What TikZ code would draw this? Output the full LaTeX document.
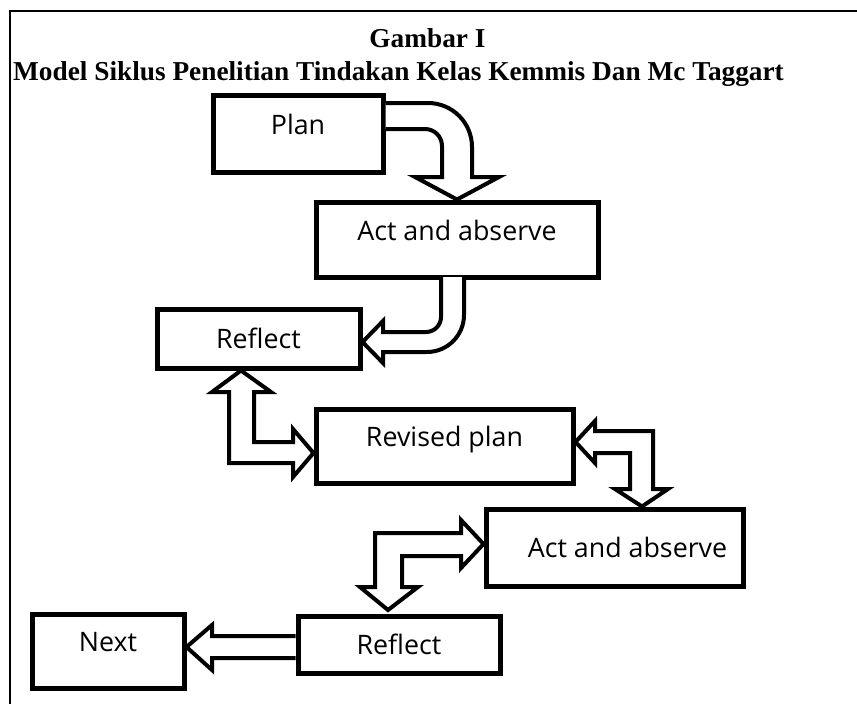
\documentclass[tikz,border=0pt]{standalone}
\usepackage{fontspec}
\setmainfont{Liberation Serif}
\newfontfamily\boxfont{Open Sans}
\begin{document}
\begin{tikzpicture}[x=1pt,y=-1pt,
  box/.style={draw=black, line width=5pt, fill=white, rectangle, inner sep=0pt,
    font=\boxfont\fontsize{26.8}{31}\selectfont, text height=19pt},
  raised/.style={text depth=18pt},
  level/.style={text depth=0pt},
  blockarrow/.style={draw=black, line width=4pt, fill=white, line join=miter},
  titlefont/.style={font=\bfseries\fontsize{27.3}{32}\selectfont, inner sep=0pt, anchor=base}
]
\useasboundingbox (0,0) rectangle (857,704);
% frame
\draw[line width=1.6pt] (10,704) -- (10,11) -- (857,11);
% titles
\node[titlefont] (t1) at (427.5,47) {Gambar I};
\node[titlefont] (t2) at (398.5,80) {Model Siklus Penelitian Tindakan Kelas Kemmis Dan Mc Taggart};
% boxes
\node[box, raised, minimum width=170pt, minimum height=77pt] (plan) at (298,133.5) {Plan};
\node[box, raised, minimum width=282pt, minimum height=75pt] (act1) at (457,239.5) {Act and abserve};
\node[box, level, minimum width=203pt, minimum height=59pt] (ref1) at (258.5,338.5) {Reflect};
\node[box, raised, minimum width=257pt, minimum height=74pt] (rev) at (444.5,446) {Revised plan};
\node[box, level, minimum width=257pt, minimum height=77pt] (act2) at (614.5,547.5) {\hspace*{13pt}Act and abserve\hspace*{-13pt}};
\node[box, level, minimum width=202pt, minimum height=57pt] (ref2) at (399,644.5) {Reflect};
\node[box, raised, minimum width=152pt, minimum height=74pt] (next) at (108,651) {Next};
% A1: plan -> act1 (curved)
\draw[blockarrow] (plan.east |- 0,103) -- (428,103)
  .. controls (452.3,103) and (472,122.7) .. (472,147)
  -- (472,177) -- (499,177) -- (act1.north) -- (415,177) -- (442,177) -- (442,146)
  .. controls (442,136.6) and (434.4,129) .. (425,129)
  -- (plan.east |- 0,129);
% A2: act1 -> ref1 (curved)
\draw[blockarrow] (464,277) -- (464,315)
  .. controls (464,335.4) and (447.4,352) .. (427,352)
  -- (383,352) -- (383,363) -- (ref1.east |- 0,342) -- (383,321) -- (383,332) -- (426,332)
  .. controls (434.3,332) and (441,325.3) .. (441,317)
  -- (441,277);
% A3: ref1 <-> rev
\draw[blockarrow] (ref1.south -| 241,0) -- (271,392) -- (254,392) -- (254,442) -- (293,442)
  -- (293,429) -- (rev.west |- 0,453) -- (293,477) -- (293,463) -- (229,463) -- (229,392)
  -- (212,392) -- cycle;
% A4: rev <-> act2
\draw[blockarrow] (rev.east |- 0,442) -- (595,421) -- (595,431) -- (653,431) -- (653,489)
  -- (668,489) -- (act2.north -| 642,0) -- (615,489) -- (630,489) -- (630,453)
  -- (595,453) -- (595,463) -- cycle;
% A5: act2 <-> ref2
\draw[blockarrow] (act2.west |- 0,544) -- (461,520) -- (461,533) -- (375,533) -- (375,587)
  -- (360,587) -- (388,610) -- (418,587) -- (402,587) -- (402,556) -- (461,556)
  -- (461,568) -- cycle;
% A6: ref2 -> next
\draw[blockarrow] (ref2.west |- 0,636) -- (212,636) -- (212,625) -- (next.east |- 0,647)
  -- (212,670) -- (212,658) -- (ref2.west |- 0,658);
\end{tikzpicture}
\end{document}
